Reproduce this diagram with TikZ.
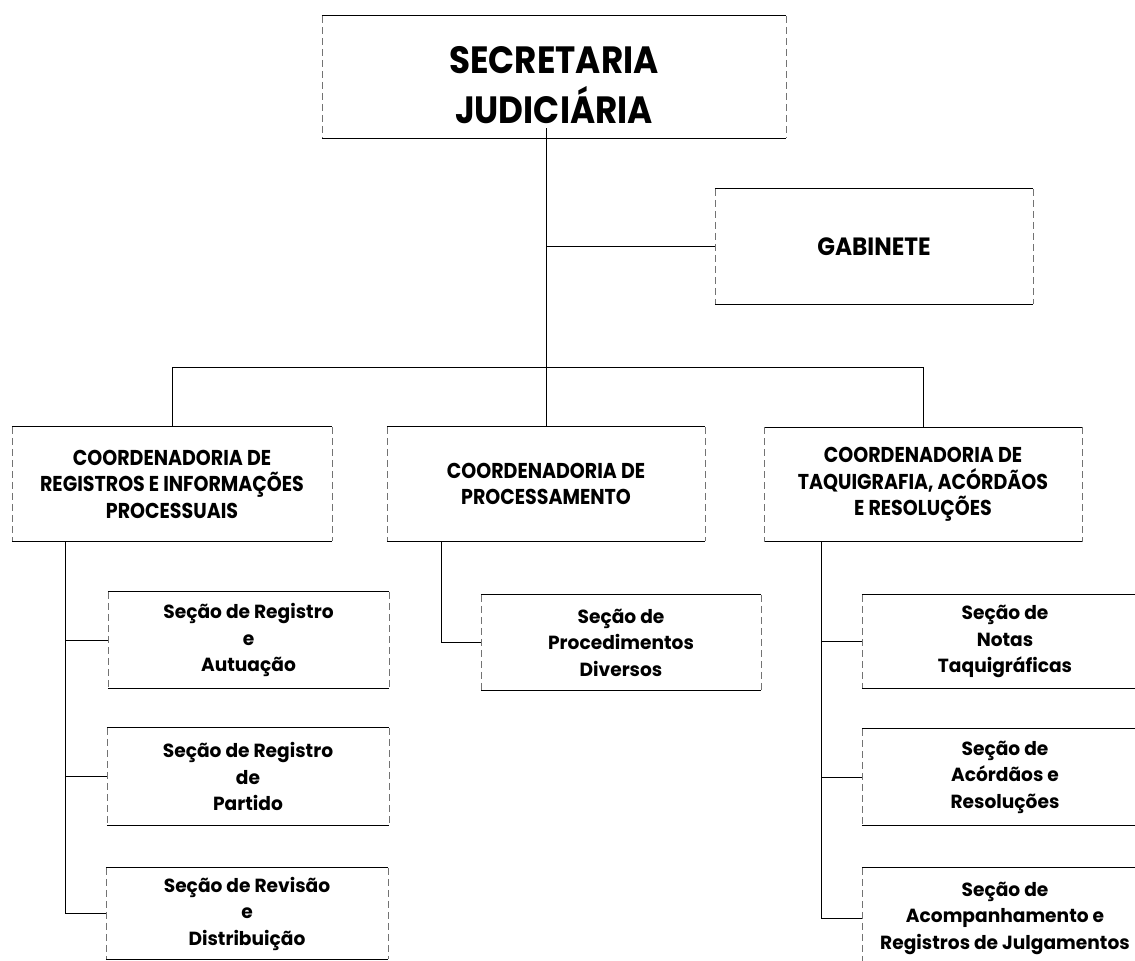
\documentclass[tikz,border=0pt]{standalone}
\usepackage{fontspec}
\setmainfont{Poppins}
\newfontfamily\titlefont{Poppins}[FakeStretch=0.9]
\newfontfamily\gabfont{Poppins}[FakeStretch=0.93]
\newfontfamily\capsfont{Poppins}[FakeStretch=0.885]
\newfontfamily\secfont{Poppins}[FakeStretch=0.98]
\begin{document}
\begin{tikzpicture}[x=1pt,y=-1pt,
  orgbox/.style={draw=none,inner sep=0pt,align=center},
  titlebox/.style={orgbox,font=\titlefont\bfseries\fontsize{38}{50}\selectfont},
  gabbox/.style={orgbox,font=\gabfont\bfseries\fontsize{25}{28}\selectfont},
  coordbox/.style={orgbox,font=\capsfont\bfseries\fontsize{21.5}{26.5}\selectfont},
  secbox/.style={orgbox,font=\secfont\bfseries\fontsize{19}{26.5}\selectfont},
  edge/.style={line width=1.1pt,black},
  side/.style={line width=0.6pt,black!55,dash pattern=on 7pt off 4pt},
  conn/.style={line width=0.9pt,black}]
\useasboundingbox (0,0) rectangle (1135,961);
\clip (0,0) rectangle (1135,961);
% top level
\node[titlebox,minimum width=464pt,minimum height=122pt] (sec) at (554,77) {\rule{0pt}{44pt}SECRETARIA\\JUDICIÁRIA};
\node[gabbox,minimum width=318pt,minimum height=115pt] (gab) at (874,246.5) {GABINETE};
% coordinators
\node[coordbox,minimum width=320pt,minimum height=114pt] (cL) at (172,484) {COORDENADORIA DE\\REGISTROS E INFORMAÇÕES\\PROCESSUAIS};
\node[coordbox,minimum width=318pt,minimum height=114pt] (cM) at (546,484) {COORDENADORIA DE\\PROCESSAMENTO};
\node[coordbox,minimum width=318pt,minimum height=114pt] (cR) at (923,484.5) {COORDENADORIA DE\\TAQUIGRAFIA, ACÓRDÃOS\\E RESOLUÇÕES};
% sections left
\node[secbox,minimum width=281pt,minimum height=96pt] (L1) at (248.5,640) {Seção de Registro\\e\\Autuação};
\node[secbox,minimum width=282pt,minimum height=97pt] (L2) at (248,776.5) {Seção de Registro\\de\\Partido};
\node[secbox,minimum width=282pt,minimum height=91pt] (L3) at (247,913.5) {Seção de Revisão\\e\\Distribuição};
% section middle
\node[secbox,minimum width=280pt,minimum height=95pt] (M1) at (621,642.5) {Seção de\\Procedimentos\\Diversos};
% sections right
\node[secbox,minimum width=286pt,minimum height=93pt] (R1) at (1005,641.5) {Seção de\\Notas\\Taquigráficas};
\node[secbox,minimum width=286pt,minimum height=96pt] (R2) at (1005,777) {Seção de\\Acórdãos e\\Resoluções};
\node[secbox,minimum width=286pt,minimum height=100pt] (R3) at (1005,918) {Seção de\\Acompanhamento e\\Registros de Julgamentos};
% box outlines
\foreach \n in {sec,gab,cL,cM,cR,L1,L2,L3,M1,R1,R2,R3}{
  \draw[edge] (\n.north west) -- (\n.north east);
  \draw[edge] (\n.south west) -- (\n.south east);
  \draw[side] (\n.north west) -- (\n.south west);
  \draw[side] (\n.north east) -- (\n.south east);
}
% connectors
\coordinate (spine) at ([yshift=10pt]sec.south -| cM.north);
\coordinate (bus) at (cM.north |- 0,367);
\draw[conn] (spine) -- (cM.north);
\draw[conn] (spine |- gab.west) -- (gab.west);
\draw[conn] (cL.north) -- (cL.north |- bus) -- (cR.north |- bus) -- (cR.north);
% left branch
\coordinate (lv) at (65,0);
\draw[conn] (lv |- cL.south) -- (lv |- L3.west) -- (L3.west);
\draw[conn] (lv |- L1.west) -- (L1.west);
\draw[conn] (lv |- L2.west) -- (L2.west);
% middle branch
\coordinate (mv) at (441,0);
\draw[conn] (mv |- cM.south) -- (mv |- M1.west) -- (M1.west);
% right branch
\coordinate (rv) at (821,0);
\draw[conn] (rv |- cR.south) -- (rv |- R3.west) -- (R3.west);
\draw[conn] (rv |- R1.west) -- (R1.west);
\draw[conn] (rv |- R2.west) -- (R2.west);
\end{tikzpicture}
\end{document}
